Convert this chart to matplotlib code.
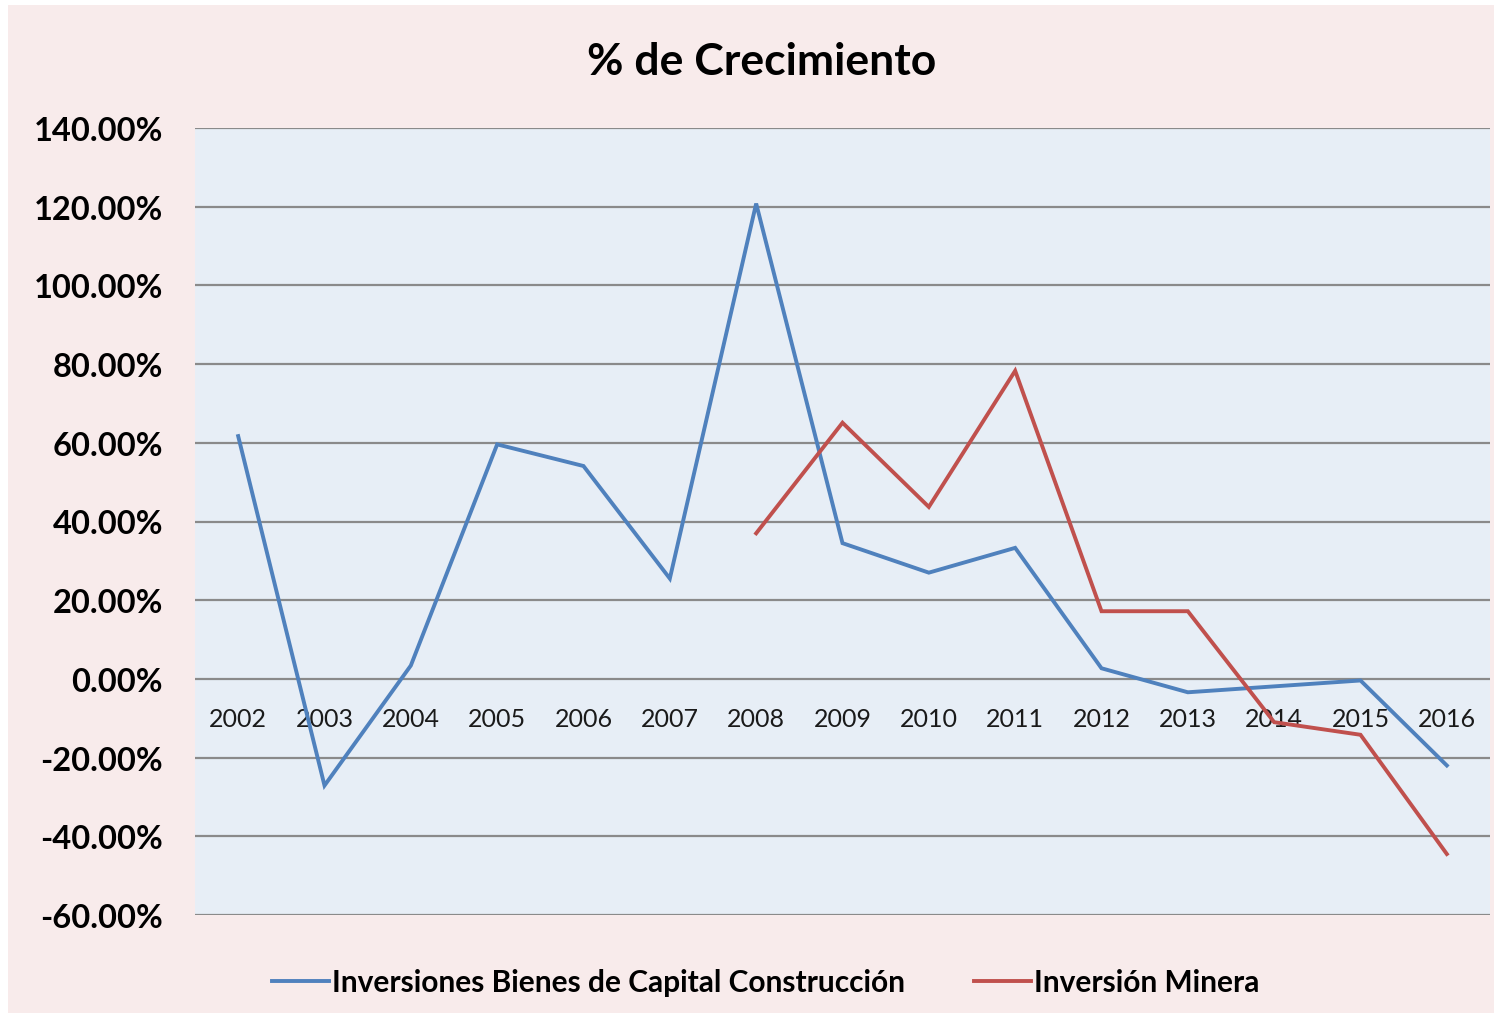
import matplotlib
matplotlib.use("Agg")
import matplotlib.pyplot as plt
from matplotlib.patches import Rectangle
from matplotlib.ticker import FuncFormatter, MultipleLocator

years = ["2002", "2003", "2004", "2005", "2006", "2007", "2008", "2009",
         "2010", "2011", "2012", "2013", "2014", "2015", "2016"]
bienes_capital = [61.7, -27.1, 3.4, 59.6, 54.1, 25.5, 120.8, 34.5,
                  27.0, 33.3, 2.7, -3.4, -1.9, -0.4, -22.0]
mineria_years = ["2008", "2009", "2010", "2011", "2012", "2013", "2014", "2015", "2016"]
mineria = [37.0, 65.1, 43.7, 78.3, 17.2, 17.2, -11.0, -14.2, -44.5]

series_names = ["Inversiones Bienes de Capital Construcción", "Inversión Minera"]
title = "% de Crecimiento"

plt.rcParams['font.family'] = ['Lato', 'DejaVu Sans']

W, H = 1502, 1020
fig = plt.figure(figsize=(W / 100, H / 100), dpi=100)
fig.patch.set_facecolor('white')
fig.patches.append(Rectangle((8 / W, 6 / H), (1494 - 8) / W, (1014 - 6) / H,
                             transform=fig.transFigure, facecolor='#F8EBEB',
                             edgecolor='none', zorder=-10))

ax = fig.add_axes([195 / W, 1 - 916 / H, (1490 - 195) / W, (916 - 129) / H])
ax.set_zorder(5)
ax.set_facecolor('#E7EEF6')

xi = list(range(len(years)))
xm = [years.index(y) for y in mineria_years]
ax.plot(xi, bienes_capital, color='#4F81BD', lw=2.8, solid_joinstyle='miter', zorder=3,
        label=series_names[0])
ax.plot(xm, mineria, color='#C0504D', lw=2.8, solid_joinstyle='miter', zorder=3,
        label=series_names[1])

ax.set_xlim(-0.5, len(years) - 0.5)
ax.set_ylim(-60, 140)
ax.yaxis.set_major_locator(MultipleLocator(20))
ax.yaxis.set_major_formatter(FuncFormatter(lambda v, p: f"{v:.2f}%"))
ax.grid(axis='y', color='#8A8A8A', lw=1.6, zorder=1)
ax.set_axisbelow(True)
for s in ax.spines.values():
    s.set_visible(False)
ax.spines['bottom'].set_position(('data', 0))
ax.set_xticks(xi)
ax.set_xticklabels(years)
ax.tick_params(axis='x', length=0, pad=20.5, labelsize=18, labelcolor='#1a1a1a')
ax.tick_params(axis='y', length=0, pad=23, labelsize=23.5)
for lab in ax.get_yticklabels():
    lab.set_fontweight('bold')

fig.text(762 / W, 1 - 62 / H, title, ha='center', va='center', fontsize=32,
         fontweight='bold')

leg = fig.legend(loc='center', bbox_to_anchor=(766 / W, 1 - 983 / H), ncol=2,
                 frameon=False, handlelength=1.9, handletextpad=0.12,
                 columnspacing=2.3, prop={'weight': 'bold', 'size': 21.5})

fig.savefig('out.png', dpi=100, facecolor=fig.get_facecolor())
